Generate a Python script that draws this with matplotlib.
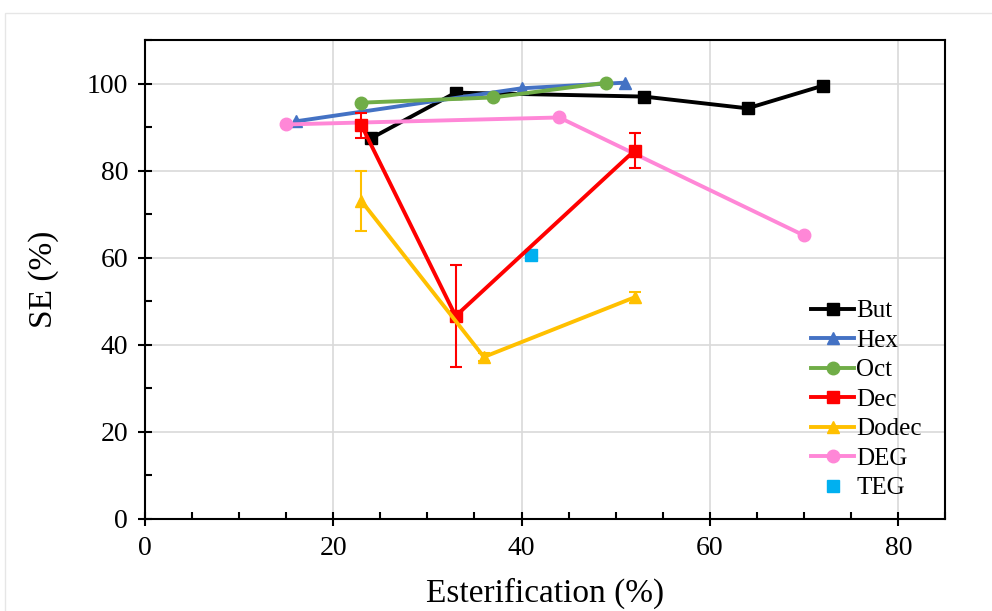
import matplotlib.pyplot as plt
from matplotlib.ticker import MultipleLocator
from matplotlib.lines import Line2D
import matplotlib.patches as mpatches

# data
but_x = [24, 33, 53, 64, 72]
but_y = [87.4, 97.9, 97.0, 94.3, 99.5]

hex_x = [16, 40, 51]
hex_y = [91.3, 98.9, 100.2]

oct_x = [23, 37, 49]
oct_y = [95.6, 96.8, 100.2]

dec_x = [23, 33, 52]
dec_y = [90.4, 46.6, 84.6]
dec_err = [2.9, 11.8, 4.0]

dodec_x = [23, 36, 52]
dodec_y = [73.0, 37.2, 50.9]
dodec_err = [6.8, 1.0, 1.3]

deg_x = [15, 44, 70]
deg_y = [90.6, 92.2, 65.1]

teg_x = [41]
teg_y = [60.6]

plt.rcParams['font.family'] = ['Liberation Serif', 'DejaVu Serif']

fig = plt.figure(figsize=(9.92, 6.11), dpi=100)
# screenshot frame
fig.patches.append(mpatches.Rectangle((0.005, -0.1), 1.2, 1.079, transform=fig.transFigure,
                                      fill=False, edgecolor='#e6e6e6', linewidth=1))
ax = fig.add_axes([0.146, 0.1506, 0.807, 0.784])

lw = 2.8
ms = 9
h = []
h.append(ax.plot(but_x, but_y, '-s', color='black', lw=lw, ms=ms, label='But', zorder=3)[0])
h.append(ax.plot(hex_x, hex_y, '-^', color='#4472c4', lw=lw, ms=ms - 1, label='Hex', zorder=3)[0])
h.append(ax.plot(oct_x, oct_y, '-o', color='#70ad47', lw=lw, ms=ms, label='Oct', zorder=3)[0])
ax.errorbar(dec_x, dec_y, yerr=dec_err, fmt='-s', color='#ff0000', lw=lw, ms=ms,
            elinewidth=1.5, capsize=4, capthick=1.5, zorder=3)
h.append(Line2D([], [], marker='s', color='#ff0000', lw=lw, ms=ms, label='Dec'))
ax.errorbar(dodec_x, dodec_y, yerr=dodec_err, fmt='-^', color='#ffc000', lw=lw, ms=ms - 1,
            elinewidth=1.5, capsize=4, capthick=1.5, zorder=3)
h.append(Line2D([], [], marker='^', color='#ffc000', lw=lw, ms=ms - 1, label='Dodec'))
h.append(ax.plot(deg_x, deg_y, '-o', color='#ff87d7', lw=lw, ms=ms, label='DEG', zorder=3)[0])
h.append(ax.plot(teg_x, teg_y, 's', color='#00b0f0', ms=ms, label='TEG', zorder=3)[0])

ax.set_xlim(0, 85)
ax.set_ylim(0, 110)
ax.xaxis.set_major_locator(MultipleLocator(20))
ax.xaxis.set_minor_locator(MultipleLocator(5))
ax.yaxis.set_major_locator(MultipleLocator(20))
ax.yaxis.set_minor_locator(MultipleLocator(10))
ax.grid(True, which='major', color='#d9d9d9', lw=1.2, zorder=0)
ax.set_axisbelow(True)

for s in ax.spines.values():
    s.set_linewidth(1.5)
ax.tick_params(which='major', direction='inout', length=10, width=1.5, labelsize=20, pad=7)
ax.tick_params(which='minor', direction='in', length=5, width=1.5)

ax.set_xlabel('Esterification (%)', fontsize=24, labelpad=12)
ax.set_ylabel('SE (%)', fontsize=24, labelpad=20)

ax.legend(handles=h, loc='lower left', bbox_to_anchor=(0.82, 0.02), frameon=False, fontsize=18,
          handlelength=1.7, handletextpad=0.1, labelspacing=0.28, borderaxespad=0.0)

fig.savefig('out.png', dpi=100)
